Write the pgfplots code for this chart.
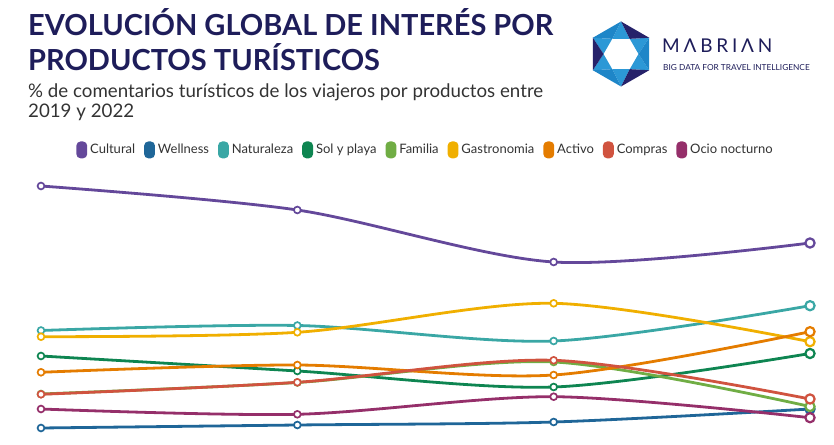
\documentclass[border=0pt]{standalone}
\usepackage{pgfplots}
\pgfplotsset{compat=1.18}
\usepackage{fontspec}
\setmainfont{Lato}
\definecolor{cCul}{HTML}{64489A}
\definecolor{cWel}{HTML}{1F6698}
\definecolor{cNat}{HTML}{3AA7A5}
\definecolor{cSol}{HTML}{0E8551}
\definecolor{cFam}{HTML}{70AD44}
\definecolor{cGas}{HTML}{F0AF00}
\definecolor{cAct}{HTML}{E47C00}
\definecolor{cCom}{HTML}{D0533F}
\definecolor{cOcio}{HTML}{952F6A}
\definecolor{titlecol}{HTML}{1E1D5A}
\definecolor{subcol}{HTML}{333333}
\definecolor{logodark}{HTML}{26226A}
\definecolor{logomid}{HTML}{1E86C8}
\definecolor{logolight}{HTML}{2C98D6}
\begin{document}
\begin{tikzpicture}
\path[use as bounding box] (0pt,0pt) rectangle (834pt,444pt);
% titles
\node[anchor=base west, inner sep=0, text=titlecol, font=\fontsize{29}{29}\selectfont\bfseries] at (28pt,408pt) {EVOLUCIÓN GLOBAL DE INTERÉS POR};
\node[anchor=base west, inner sep=0, text=titlecol, font=\fontsize{29}{29}\selectfont\bfseries] at (28pt,373pt) {PRODUCTOS TURÍSTICOS};
\node[anchor=base west, inner sep=0, text=subcol, font=\fontsize{18.7}{18.7}\selectfont] at (28pt,346pt) {\% de comentarios turísticos de los viajeros por productos entre};
\node[anchor=base west, inner sep=0, text=subcol, font=\fontsize{18.7}{18.7}\selectfont] at (28pt,326pt) {2019 y 2022};
% logo
\begin{scope}[shift={(621pt,390pt)}]
\foreach \a in {0,60,...,300}{
  \fill[logolight] (\a+90:32.5pt) -- (\a+60:17.5pt) -- (\a+120:17.5pt) -- cycle;
}
\foreach \a in {0,120,240}{
  \fill[logomid] (\a:17.5pt) -- (\a+30:32.5pt) -- (\a-30:32.5pt) -- cycle;
}
\foreach \a in {60,180,300}{
  \fill[logodark] (\a:17.5pt) -- (\a+30:32.5pt) -- (\a-30:32.5pt) -- cycle;
}
\end{scope}
\node[anchor=base west, inner sep=0, text=titlecol, font=\fontsize{19}{19}\selectfont\addfontfeature{LetterSpace=20}] at (662pt,391pt) {MΛBRIΛN};
\node[anchor=base west, inner sep=0, text=titlecol, font=\fontsize{8.3}{8.3}\selectfont] at (663pt,373pt) {BIG DATA FOR TRAVEL INTELLIGENCE};
\begin{axis}[at={(41pt,4pt)}, anchor=south west, scale only axis, width=769pt, height=300pt,
  xmin=0, xmax=3, ymin=0, ymax=30, axis lines=none, clip=false,
  every axis plot/.append style={line width=2.8pt, smooth, tension=0.5, mark=*, mark size=3.4pt,
     mark indices={1,2,3},
     mark options={fill=white, line width=1.7pt}},
  legend columns=-1,
  legend style={at={(0.5,0.967)}, anchor=center, draw=none, fill=none,
     font=\fontsize{13}{13}\selectfont, text=subcol,
     /tikz/every even column/.append style={column sep=7pt},
     /tikz/every odd column/.append style={column sep=1pt}},
  legend image code/.code={\fill[#1, mark=none, rounded corners=3pt] (0pt,-7pt) rectangle (8pt,7pt);},
  last/.style={forget plot, only marks, mark=*, mark size=4.6pt, mark options={fill=white, line width=2.2pt}},
]
\addplot[cCul] coordinates {(0,25.4) (1,23.0) (2,17.8) (3,19.7)};
\addplot[cCul, last] coordinates {(3,19.7)};
\addplot[cWel] coordinates {(0,1.2) (1,1.5) (2,1.8) (3,3.1)};
\addplot[cWel, last] coordinates {(3,3.1)};
\addplot[cNat] coordinates {(0,10.95) (1,11.45) (2,9.9) (3,13.43)};
\addplot[cNat, last] coordinates {(3,13.43)};
\addplot[cSol] coordinates {(0,8.4) (1,6.9) (2,5.3) (3,8.65)};
\addplot[cSol, last] coordinates {(3,8.65)};
\addplot[cFam] coordinates {(0,4.6) (1,5.75) (2,7.8) (3,3.35)};
\addplot[cFam, last] coordinates {(3,3.35)};
\addplot[cGas] coordinates {(0,10.33) (1,10.77) (2,13.67) (3,9.83)};
\addplot[cGas, last] coordinates {(3,9.83)};
\addplot[cAct] coordinates {(0,6.77) (1,7.5) (2,6.5) (3,10.83)};
\addplot[cAct, last] coordinates {(3,10.83)};
\addplot[cCom] coordinates {(0,4.57) (1,5.77) (2,7.97) (3,4.1)};
\addplot[cCom, last] coordinates {(3,4.1)};
\addplot[cOcio] coordinates {(0,3.1) (1,2.57) (2,4.33) (3,2.23)};
\addplot[cOcio, last] coordinates {(3,2.23)};
\legend{Cultural,Wellness,Naturaleza,Sol y playa,Familia,Gastronomia,Activo,Compras,Ocio nocturno}
\end{axis}
\end{tikzpicture}
\end{document}
